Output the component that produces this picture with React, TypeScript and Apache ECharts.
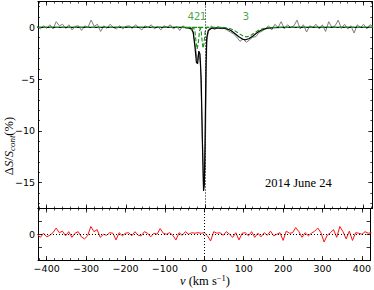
import { useEffect, useRef } from 'react';
import * as echarts from 'echarts';

// Observed profile (grey), km/s and %
const obsVel = [
  -424, -416, -408, -400, -392, -384, -376, -368, -360, -352,
  -344, -336, -328, -320, -312, -304, -296, -288, -280, -272,
  -264, -256, -248, -240, -232, -224, -216, -208, -200, -192,
  -184, -176, -168, -160, -152, -144, -136, -128, -120, -112,
  -104, -96, -88, -80, -72, -64, -56, -48, -40, -32,
  -24, -20, -16, -12, -8, -4, 0, 4, 8,
  16, 24, 32, 40, 48, 56, 64, 72, 80, 88,
  96, 104, 112, 120, 128, 136, 144, 152, 160, 168,
  176, 184, 192, 200, 208, 216, 224, 232, 240, 248,
  256, 264, 272, 280, 288, 296, 304, 312, 320, 328,
  336, 344, 352, 360, 368, 376, 384, 392, 400, 408,
  416, 424,
];
const obsVal = [
  0.1, -0.15, 0.15, -0.1, 0.25, -0.15, 0.55, 0.15, 0.3, -0.1,
  0.25, -0.25, 0.1, 0.15, -0.3, 0.15, 0.0, 0.7, 0.1, 0.3,
  -0.4, 0.15, -0.1, 0.3, 0.0, -0.15, 0.15, -0.15, 0.1, 0.15,
  -0.1, 0.25, 0.0, -0.25, 0.15, 0.0, 0.25, -0.15, 0.1, -0.25,
  0.15, 0.0, 0.25, -0.15, 0.1, -0.3, 0.15, -0.1, 0.0, -0.15,
  -2.0, -3.3, -2.4, -3.5, -9, -15.6, -13.5, -1.5, -0.3,
  0.15, -0.25, 0.1, -0.15, 0.0, -0.3, -0.45, -0.65, -0.95, -1.35,
  -1.1, -1.45, -1.2, -0.95, -0.9, -0.5, -0.35, -0.15, 0.15, -0.25,
  0.3, 0.0, 0.55, -0.15, 0.25, 0.0, 0.15, 0.7, -0.15, 0.25,
  -0.45, 0.15, 0.0, 0.3, -0.15, 0.25, -0.4, 0.55, 0.0, 0.15,
  0.7, -0.1, 0.3, -0.15, 0.15, -0.55, 0.25, 0.0, 0.3, -0.15,
  0.25, 0.1,
];

// Model (black)
const modelVel = [
  -424, -60, -45, -35, -30, -26, -22, -19, -16, -13,
  -10, -7, -4, -2, 0, 2, 4, 8, 15, 30,
  45, 55, 65, 75, 85, 95, 102, 110, 120, 130,
  140, 150, 160, 175, 195, 424,
];
const modelVal = [
  0, 0, -0.03, -0.15, -0.5, -1.8, -3.4, -3.5, -2.3, -2.6,
  -5, -11, -15.8, -15.2, -10, -4, -1, -0.3, -0.1, -0.05,
  -0.08, -0.15, -0.3, -0.6, -0.9, -1.15, -1.2, -1.1, -0.85, -0.55,
  -0.3, -0.15, -0.07, -0.02, 0, 0,
];

// Components (green dashed)
const comp4Vel = [-50, -46, -40, -36, -32, -26, -22];
const comp4Val = [0, 0, -0.12, -0.2, -0.12, 0, 0];
const comp2Vel = [-34, -30, -26, -23, -20, -17, -14, -10, -6];
const comp2Val = [0, 0, -0.3, -1.4, -2.1, -1.4, -0.3, 0, 0];
const comp1Vel = [-18, -14, -10, -7, -5, -3, 0, 4, 8];
const comp1Val = [0, 0, -0.4, -1.6, -2.0, -1.6, -0.4, 0, 0];
const comp3Vel = [-424, 45, 60, 72, 84, 96, 104, 112, 124, 136, 150, 165, 424];
const comp3Val = [0, 0, -0.08, -0.25, -0.55, -0.85, -0.92, -0.85, -0.55, -0.25, -0.08, 0, 0];

const compLabels = ['4', '2', '1', '3'];
const compLabelVel = [-36, -20.5, -5, 103];
const compLabelY = [1.1, 1.1, 1.1, 1.1];

// Residuals (red)
const residVel = [
  -424, -416, -408, -400, -392, -384, -376, -368, -360, -352,
  -344, -336, -328, -320, -312, -304, -296, -288, -280, -272,
  -264, -256, -248, -240, -232, -224, -216, -208, -200, -192,
  -184, -176, -168, -160, -152, -144, -136, -128, -120, -112,
  -104, -96, -88, -80, -72, -64, -56, -48, -40, -32,
  -24, -16, -8, 0, 8, 16, 24, 32, 40, 48,
  56, 64, 72, 80, 88, 96, 104, 112, 120, 128,
  136, 144, 152, 160, 168, 176, 184, 192, 200, 208,
  216, 224, 232, 240, 248, 256, 264, 272, 280, 288,
  296, 304, 312, 320, 328, 336, 344, 352, 360, 368,
  376, 384, 392, 400, 408, 416, 424,
];
const residVal = [
  0.0, -0.3, 0.1, -0.25, -0.1, 0.15, 0.6, 0.15, 0.3, -0.15,
  0.25, -0.3, 0.1, 0.25, -0.25, -0.45, -0.15, 0.75, 0.25, 0.45,
  -0.3, 0.0, -0.1, 0.15, 0.1, -0.55, 0.15, -0.15, 0.1, 0.15,
  -0.15, 0.25, -0.1, -0.15, 0.25, 0.1, -0.25, 0.1, 0.0, 0.55,
  0.1, 0.0, 0.15, -0.1, -0.55, 0.15, -0.1, 0.25, 0.0, 0.15,
  0.1, 0.15, 0.1, 0.15, -0.15, -0.65, 0.25, 0.1, 0.15, -0.1,
  0.25, 0.0, -0.3, 0.15, -0.55, 0.1, 0.15, -0.15, 0.25, -0.3,
  0.1, -0.25, 0.15, -0.1, 0.3, -0.15, 0.0, 0.15, -0.6, 0.3,
  0.1, 0.15, 0.65, 0.25, -0.3, 0.15, -0.15, 0.1, 0.3, 0.6,
  0.15, -0.75, -0.1, 0.15, 0.45, -0.3, 0.75, 0.25, -0.45, 0.3,
  -0.6, 0.15, 0.1, 0.0, 0.25, 0.1, 0.15,
];

const dateLabel = '2014 June 24';

const pairs = (xs: number[], ys: number[]) => xs.map((x, i) => [x, ys[i]]);
const minusFmt = (v: number) => (v < 0 ? '\u2212' + -v : String(v));

const GREEN = '#189018';
const TICKFONT = { fontSize: 9.5, fontFamily: 'DejaVu Sans', color: '#000' };

function ax(extra: any) {
  return {
    type: 'value',
    axisLine: { show: true, onZero: false, lineStyle: { color: '#000', width: 1 } },
    axisTick: { show: true, inside: true, length: 4, lineStyle: { color: '#000', width: 0.8 } },
    axisLabel: { show: false },
    splitLine: { show: false },
    ...extra,
  };
}
function minorAx(extra: any) {
  return {
    type: 'value',
    axisLine: { show: false, onZero: false },
    axisTick: { show: true, inside: true, length: 2, lineStyle: { color: '#000', width: 0.7 } },
    axisLabel: { show: false },
    splitLine: { show: false },
    ...extra,
  };
}

export default function App() {
  const ref = useRef<HTMLDivElement>(null);
  useEffect(() => {
    if (!ref.current) return;
    const chart = echarts.init(ref.current, undefined, { renderer: 'svg' });
    const xr = { min: -422, max: 422 };
    const yTop = { min: -17.5, max: 2.5 };
    const yBot = { min: -2.5, max: 2.5 };
    const vLine = {
      silent: true,
      symbol: 'none',
      label: { show: false },
      lineStyle: { type: [1, 2], color: '#000', width: 1 },
      data: [{ xAxis: 0 }],
    };
    const option: any = {
      animation: false,
      grid: [
        { left: 38, right: 1.7, top: 1.5, height: 207 },
        { left: 38, right: 1.7, top: 208.5, height: 51.5 },
      ],
      xAxis: [
        ax({ gridIndex: 0, position: 'bottom', ...xr, minInterval: 100, maxInterval: 100 }),
        ax({
          gridIndex: 1, position: 'bottom', ...xr, minInterval: 100, maxInterval: 100,
          axisLabel: { show: true, ...TICKFONT, margin: 3, formatter: minusFmt, showMinLabel: false, showMaxLabel: false },
        }),
        ax({ gridIndex: 0, position: 'top', ...xr, minInterval: 100, maxInterval: 100 }),
        ax({ gridIndex: 1, position: 'top', ...xr, minInterval: 100, maxInterval: 100 }),
        minorAx({ gridIndex: 0, position: 'bottom', ...xr, minInterval: 20, maxInterval: 20 }),
        minorAx({ gridIndex: 1, position: 'bottom', ...xr, minInterval: 20, maxInterval: 20 }),
        minorAx({ gridIndex: 0, position: 'top', ...xr, minInterval: 20, maxInterval: 20 }),
        minorAx({ gridIndex: 1, position: 'top', ...xr, minInterval: 20, maxInterval: 20 }),
      ],
      yAxis: [
        ax({
          gridIndex: 0, position: 'left', ...yTop, minInterval: 5, maxInterval: 5,
          axisLabel: { show: true, ...TICKFONT, margin: 3, formatter: minusFmt, showMinLabel: false, showMaxLabel: false },
        }),
        ax({
          gridIndex: 1, position: 'left', ...yBot, minInterval: 1.25, maxInterval: 1.25,
          axisLabel: { show: true, ...TICKFONT, margin: 3, formatter: (v: number) => (v === 0 ? '0' : ''), showMinLabel: false, showMaxLabel: false },
        }),
        ax({ gridIndex: 0, position: 'right', ...yTop, minInterval: 5, maxInterval: 5 }),
        ax({ gridIndex: 1, position: 'right', ...yBot, minInterval: 1.25, maxInterval: 1.25 }),
        minorAx({ gridIndex: 0, position: 'left', ...yTop, minInterval: 1, maxInterval: 1 }),
        minorAx({ gridIndex: 0, position: 'right', ...yTop, minInterval: 1, maxInterval: 1 }),
      ],
      series: [
        {
          type: 'line', xAxisIndex: 0, yAxisIndex: 0, data: pairs(obsVel, obsVal),
          symbol: 'none', lineStyle: { color: '#7d7d7d', width: 1 }, z: 2,
          markLine: vLine,
        },
        {
          type: 'line', xAxisIndex: 0, yAxisIndex: 0, data: pairs(modelVel, modelVal),
          symbol: 'none', lineStyle: { color: '#000', width: 1.2 }, z: 3,
        },
        ...[
          [comp4Vel, comp4Val],
          [comp2Vel, comp2Val],
          [comp1Vel, comp1Val],
          [comp3Vel, comp3Val],
        ].map(([v, y]) => ({
          type: 'line', xAxisIndex: 0, yAxisIndex: 0, data: pairs(v, y),
          symbol: 'none', lineStyle: { color: GREEN, width: 1.1, type: [4, 2] }, z: 4,
        })),
        {
          type: 'scatter', xAxisIndex: 0, yAxisIndex: 0,
          data: compLabels.map((n, i) => ({ name: n, value: [compLabelVel[i], compLabelY[i]] })),
          symbolSize: 1, itemStyle: { color: 'rgba(0,0,0,0)' },
          label: { show: true, position: 'inside', formatter: '{b}', color: GREEN, fontSize: 10.5, fontFamily: 'DejaVu Sans' },
          z: 5,
        },
        {
          type: 'line', xAxisIndex: 1, yAxisIndex: 1, data: pairs(residVel, residVal),
          symbol: 'none', lineStyle: { color: '#ff1010', width: 1 }, z: 3,
          markLine: { ...vLine, data: [{ xAxis: 0 }, { yAxis: 0 }] },
        },
      ],
      graphic: [
        {
          type: 'text', x: 265, y: 182.5,
          style: { text: dateLabel, fontSize: 12.5, fontFamily: 'Liberation Serif', fill: '#000', verticalAlign: 'middle' },
        },
        {
          type: 'text', x: 9, y: 146, rotation: Math.PI / 2,
          style: {
            text: '{u|\u0394}{i|S}{u|/}{i|S}{s|cont}{u|(%)}',
            align: 'center', verticalAlign: 'middle', fill: '#000',
            rich: {
              u: { fontSize: 12.5, fontFamily: 'Liberation Serif' },
              i: { fontSize: 12.5, fontFamily: 'Liberation Serif', fontStyle: 'italic' },
              s: { fontSize: 9, fontFamily: 'Liberation Serif', fontStyle: 'italic', padding: [6, 0, 0, 0] },
            },
          },
        },
        {
          type: 'text', x: 205, y: 281,
          style: {
            text: '{i|v}{u| (km s}{p|\u22121}{u|)}',
            align: 'center', verticalAlign: 'middle', fill: '#000',
            rich: {
              u: { fontSize: 12.5, fontFamily: 'Liberation Serif' },
              i: { fontSize: 12.5, fontFamily: 'Liberation Serif', fontStyle: 'italic' },
              p: { fontSize: 8.5, fontFamily: 'Liberation Serif', padding: [0, 0, 7, 0] },
            },
          },
        },
      ],
    };
    chart.setOption(option);
    return () => chart.dispose();
  }, []);
  return <div ref={ref} style={{ position: 'absolute', left: 0, top: 0, width: 374, height: 290 }} />;
}
